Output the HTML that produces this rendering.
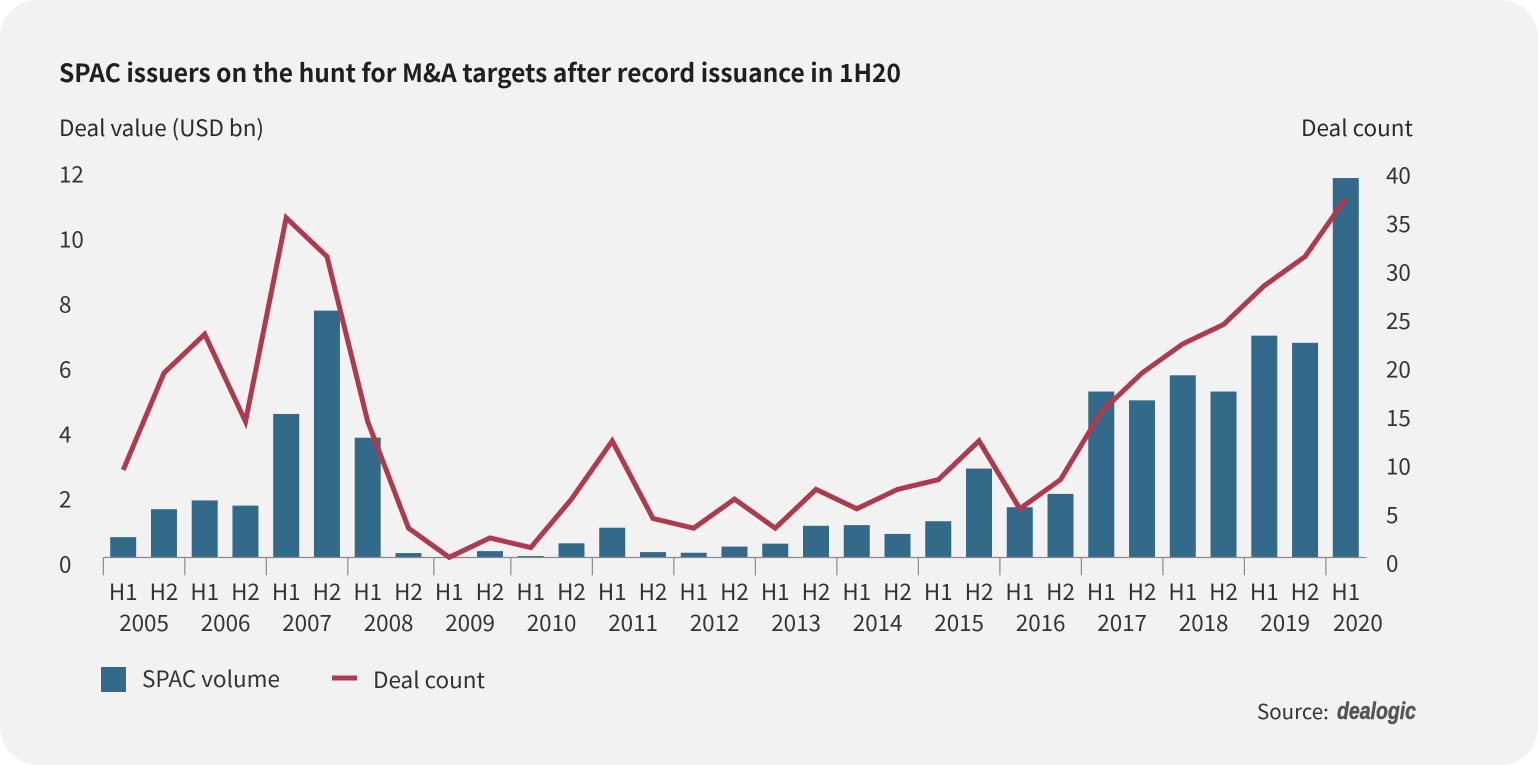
<!DOCTYPE html>
<html lang="en">
<head>
<meta charset="utf-8">
<title>SPAC issuers chart</title>
<style>
html,body{margin:0;padding:0;width:1538px;height:765px;background:#fff;overflow:hidden}
#card{position:absolute;left:0;top:0;width:1538px;height:765px;background:#f2f2f2;border-radius:38px}
svg{position:absolute;left:0;top:0}
text{font-family:"Noto Sans CJK JP","Liberation Sans",sans-serif;fill:#333;font-size:22.4px}
</style>
</head>
<body>
<div id="card"></div>
<svg id="chart" width="1538" height="765" viewBox="0 0 1538 765">
  <text x="59" y="82" style="font-size:25px;font-weight:700;fill:#1f1f1f" textLength="842" lengthAdjust="spacingAndGlyphs">SPAC issuers on the hunt for M&amp;A targets after record issuance in 1H20</text>
  <text x="59" y="136" style="fill:#2a2a2a" textLength="205" lengthAdjust="spacingAndGlyphs">Deal value (USD bn)</text>
  <text x="1413" y="136" text-anchor="end" style="fill:#2a2a2a" textLength="112" lengthAdjust="spacingAndGlyphs">Deal count</text>
  <g id="bars"></g>
  <g id="axes"></g>
  <polyline id="line" fill="none" stroke="#b03a4d" stroke-width="5" stroke-linejoin="miter"></polyline>
  <g id="labels"></g>
  <rect x="101" y="667" width="25" height="25" fill="#336a8a"></rect>
  <text x="142" y="687" textLength="138" lengthAdjust="spacingAndGlyphs">SPAC volume</text>
  <rect x="332" y="675.5" width="25" height="5" fill="#b03a4d"></rect>
  <text x="373" y="688" textLength="112" lengthAdjust="spacingAndGlyphs">Deal count</text>
  <text x="1257" y="719" style="font-size:20.5px">Source:</text>
  <text x="1337" y="719" style="font-size:24px;font-weight:700;font-style:italic;fill:#555;stroke:#555;stroke-width:0.5;font-family:'Liberation Sans',sans-serif" textLength="79" lengthAdjust="spacingAndGlyphs">dealogic</text>
</svg>
<script>
var halves = ['H1','H2','H1','H2','H1','H2','H1','H2','H1','H2','H1','H2','H1','H2','H1','H2','H1','H2','H1','H2','H1','H2','H1','H2','H1','H2','H1','H2','H1','H2','H1'];
var years = ['2005','2006','2007','2008','2009','2010','2011','2012','2013','2014','2015','2016','2017','2018','2019','2020'];
var spacVolume = [0.62,1.48,1.75,1.59,4.41,7.59,3.68,0.13,0.01,0.19,0.04,0.43,0.91,0.16,0.14,0.33,0.42,0.97,0.99,0.72,1.11,2.73,1.54,1.95,5.10,4.83,5.60,5.10,6.82,6.60,11.67];
var dealCount = [9,19,23,14,35,31,14,3,0,2,1,6,12,4,3,6,3,7,5,7,8,12,5,8,15,19,22,24,28,31,37];
var leftTicks = [0,2,4,6,8,10,12];
var rightTicks = [0,5,10,15,20,25,30,35,40];

var NS = 'http://www.w3.org/2000/svg';
var baseY = 557.3, firstX = 123.2, stepX = 40.753, barW = 26;
function xPos(i){ return firstX + i * stepX; }
function yLeft(v){ return baseY - v * 32.5; }
function yRight(v){ return baseY - v * 9.7; }
function mk(tag, parent, attrs){
  var el = document.createElementNS(NS, tag);
  for (var k in attrs) el.setAttribute(k, attrs[k]);
  parent.appendChild(el);
  return el;
}
var barsG = document.getElementById('bars');
var axesG = document.getElementById('axes');
var labelsG = document.getElementById('labels');

spacVolume.forEach(function(v, i){
  var r = mk('rect', barsG, {x: xPos(i) - barW / 2, y: yLeft(v), width: barW, height: baseY - yLeft(v), fill: '#336a8a'});
  
  
});

document.getElementById('line').setAttribute('points', dealCount.map(function(v, i){
  return xPos(i).toFixed(1) + ',' + yRight(v).toFixed(1);
}).join(' '));

var axisLine = mk('line', axesG, {x1: firstX - stepX / 2 + 0.5, x2: xPos(halves.length - 1) + stepX / 2 + 0.5, y1: baseY + 0.2, y2: baseY + 0.2, stroke: '#8a8a8a', 'stroke-width': 1.2});



years.forEach(function(y, i){
  var base = firstX - stepX / 2 + 0.5 + i * 2 * stepX;
  var tx = y === '2009' ? base + 4.5 : base;
  var t = mk('line', axesG, {x1: tx, x2: tx, y1: baseY, y2: baseY + 18, stroke: '#8a8a8a', 'stroke-width': 1.2});
  
  
  var lx = i === years.length - 1 ? base + 32 : base + stepX;
  var l = mk('text', labelsG, {x: lx, y: 631, 'text-anchor': 'middle'});
  l.textContent = y;
  
  
});

halves.forEach(function(h, i){
  var l = mk('text', labelsG, {x: xPos(i), y: 600, 'text-anchor': 'middle'});
  l.textContent = h;
  
  
});

leftTicks.forEach(function(v){
  var l = mk('text', labelsG, {x: 59, y: yLeft(v) + 15});
  l.textContent = v;
  
  
});

rightTicks.forEach(function(v){
  var l = mk('text', labelsG, {x: 1386, y: yRight(v) + 14});
  l.textContent = v;
  
  
});
</script>
</body>
</html>
